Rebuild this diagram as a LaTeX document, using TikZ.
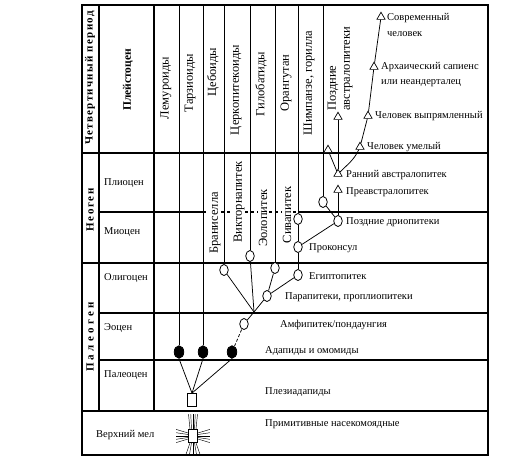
\documentclass[tikz,border=0pt]{standalone}
\usepackage{fontspec}
\setmainfont{Liberation Serif}
\usetikzlibrary{calc, shapes.geometric}

\begin{document}
\begin{tikzpicture}[x=1pt, y=1pt, font=\fontsize{10.5}{12}\selectfont]

    % --- Paramètres ---
    \def\xL{82}      % bord gauche
    \def\xR{488}     % bord droit
    \def\xEra{99}    % colonne des ères
    \def\xEp{154}    % colonne des époques
    \def\yT{-5}      % haut
    \def\yB{-455}    % bas

    \useasboundingbox (0,0) rectangle (527,-461);
    \coordinate (top) at (0,\yT);

    % --- Styles ---
    \tikzstyle{grid_line} = [line width=1.1pt]
    \tikzstyle{branch} = [line width=0.75pt]
    \tikzstyle{fossil} = [draw, fill=white, ellipse, minimum width=8.5pt, minimum height=11pt, inner sep=0pt, line width=0.8pt]
    \tikzstyle{fossil_black} = [fossil, fill=black, minimum width=9.5pt, minimum height=12.5pt]
    \tikzstyle{hominid} = [draw, fill=white, regular polygon, regular polygon sides=3, minimum size=9.5pt, inner sep=0pt, line width=0.7pt]
    \tikzstyle{root} = [draw, fill=white, rectangle, minimum width=9pt, minimum height=13pt, inner sep=0pt, line width=0.8pt]
    \tikzstyle{taxon} = [anchor=west, inner sep=1pt]
    \tikzstyle{column} = [rotate=90, inner sep=0pt, font=\fontsize{12.5}{14}\selectfont]
    \tikzstyle{era} = [rotate=90, inner sep=0pt, font=\fontsize{11}{13}\selectfont\bfseries]

    % --- Tableau ---
    \draw[grid_line] (\xL,\yT) rectangle (\xR,\yB);
    \draw[grid_line] (\xL,-153) -- (\xR,-153);
    \draw[grid_line] (\xL,-263) -- (\xR,-263);
    \draw[grid_line] (\xL,-411) -- (\xR,-411);
    \draw[grid_line] (\xEra,\yT) -- (\xEra,-411);
    \draw[grid_line] (\xEp,\yT) -- (\xEp,-411);
    \draw[grid_line] (\xEra,-313) -- (\xR,-313);
    \draw[grid_line] (\xEra,-360) -- (\xR,-360);
    % limite pliocène / miocène, en tirets sous les singes
    \draw[grid_line] (\xEra,-212) -- (203,-212);
    \draw[grid_line, dashed] (203,-212) -- (298,-212);
    \draw[grid_line] (298,-212) -- (\xR,-212);

    % --- Ères et époques ---
    \node[era] (e_q) at (90,-78) {\addfontfeature{LetterSpace=12}Четвертичный период};
    \node[era] (e_n) at (90,-210) {\addfontfeature{LetterSpace=15}Неоген};
    \node[era] (e_p) at (90,-337) {\addfontfeature{LetterSpace=30}Палеоген};
    \node[era, font=\fontsize{11.5}{13}\selectfont\bfseries] (ep_ple) at (128,-80) {Плейстоцен};
    \node[taxon] (ep_pli) at (103,-183) {Плиоцен};
    \node[taxon] (ep_mio) at (103,-232) {Миоцен};
    \node[taxon] (ep_oli) at (103,-278) {Олигоцен};
    \node[taxon] (ep_eoc) at (103,-328) {Эоцен};
    \node[taxon] (ep_pal) at (103,-375) {Палеоцен};
    \node[taxon] (ep_cre) at (95,-435) {Верхний мел};

    % --- Colonnes ---
    \node[column] (c_lem) at (166,-88) {Лемуроиды};
    \node[column] (c_tar) at (190,-83) {Тарзиоиды};
    \node[column] (c_ceb) at (213,-72) {Цебоиды};
    \node[column] (c_cer) at (236,-90) {Церкопитекоиды};
    \node[column] (c_hyl) at (261,-84) {Гилобатиды};
    \node[column] (c_ora) at (286,-83) {Орангутан};
    \node[column] (c_pan) at (309,-83) {Шимпанзе, горилла};
    \node[column, fill=white, inner sep=1pt] (c_brn) at (215,-223) {Браниселла};
    \node[column, fill=white, inner sep=1pt] (c_vik) at (239,-202) {Викторнапитек};
    \node[column, fill=white, inner sep=1pt] (c_eol) at (263,-218) {Эолопитек};
    \node[column, fill=white, inner sep=1pt] (c_siv) at (287,-215) {Сивапитек};
    \node[column, anchor=west, align=left] (c_lau) at (340,-111) {Поздние\\австралопитеки};

    % --- Fossiles ---
    \node[fossil_black] (lem) at (179,-352) {};
    \node[fossil_black] (tar) at (203,-352) {};
    \node[fossil_black] (ada) at (232,-352) {};
    \node[fossil] (amf) at (244,-324) {};
    \coordinate (jn) at (254,-312);
    \node[fossil] (brn) at (224,-270) {};
    \node[fossil] (vik) at (250,-256) {};
    \node[fossil] (eol) at (275,-268) {};
    \node[fossil] (par) at (267,-296) {};
    \node[fossil] (egy) at (298,-275) {};
    \node[fossil] (prk) at (298,-247) {};
    \node[fossil] (siv) at (298,-219) {};
    \node[fossil] (drio) at (338,-221) {};
    \node[fossil] (pan) at (323,-202) {};
    \node[hominid] (prea) at (338,-190) {};
    \node[hominid] (rau) at (338,-174) {};
    \node[hominid] (rob) at (328,-150) {};
    \node[hominid] (lau) at (338,-117) {};
    \node[hominid] (hab) at (360,-147) {};
    \node[hominid] (ere) at (368,-116) {};
    \node[hominid] (arc) at (374,-67) {};
    \node[hominid] (sap) at (381,-17) {};
    \node[root] (plz) at (192,-400) {};
    \node[root] (ins) at (193,-436) {};

    % --- Branches ---
    \foreach \n in {lem, tar, brn, vik, eol, siv, pan}
        \draw[branch] (\n) -- (\n |- top);
    \foreach \n in {lem, tar, ada}
        \draw[branch] (\n.south) -- (plz.north);
    \draw[branch, densely dashed] (ada) -- (amf);
    \draw[branch] (amf) -- (jn);
    \foreach \n in {brn, vik, par}
        \draw[branch] (jn) -- (\n);
    \draw[branch] (par) -- (eol);
    \draw[branch] (par) -- (egy);
    \draw[branch] (egy) -- (prk);
    \draw[branch] (prk) -- (siv);
    \draw[branch] (prk) -- (drio);
    \draw[branch] (drio) -- (pan);
    \draw[branch] (drio) -- (prea);
    \draw[branch] (rau) -- (rob);
    \draw[branch] (rau) -- (lau);
    \draw[branch] (rau) to[out=45, in=-115] (hab);
    \draw[branch] (hab) -- (ere);
    \draw[branch] (ere) -- (arc);
    \draw[branch] (arc) -- (sap);

    % insectivores : rayons autour du carré
    \foreach \d in {-3,-1.5,0,1.5,3} {
        \draw[line width=0.45pt] ($(ins.north)+(\d,0)$) -- ++(0.5*\d,15);
        \draw[line width=0.45pt] ($(ins.south)+(\d,0)$) -- ++(1.4*\d,-12);
        \draw[line width=0.45pt] ($(ins.west)+(0,\d)$) -- ++(-12,1.2*\d);
        \draw[line width=0.45pt] ($(ins.east)+(0,\d)$) -- ++(12,1.2*\d);
    }

    % --- Étiquettes ---
    \node[taxon, align=left, font=\fontsize{10.5}{15.5}\selectfont] (l_sap) at (386,-25) {Современный\\человек};
    \node[taxon, align=left, font=\fontsize{10.5}{15}\selectfont] (l_arc) at (380,-74.5) {Архаический сапиенс\\или неандерталец};
    \node[taxon] (l_ere) at (374,-116) {Человек выпрямленный};
    \node[taxon] (l_hab) at (366,-147) {Человек умелый};
    \node[taxon] (l_rau) at (345,-175) {Ранний австралопитек};
    \node[taxon] (l_prea) at (345,-192) {Преавстралопитек};
    \node[taxon] (l_drio) at (345,-222) {Поздние дриопитеки};
    \node[taxon] (l_prk) at (308,-248) {Проконсул};
    \node[taxon] (l_egy) at (308,-276) {Египтопитек};
    \node[taxon] (l_par) at (284,-297) {Парапитеки, проплиопитеки};
    \node[taxon] (l_amf) at (279,-325) {Амфипитек/пондаунгия};
    \node[taxon] (l_ada) at (264,-351) {Адапиды и омомиды};
    \node[taxon] (l_plz) at (264,-392) {Плезиадапиды};
    \node[taxon] (l_ins) at (264,-424) {Примитивные насекомоядные};

\end{tikzpicture}
\end{document}
